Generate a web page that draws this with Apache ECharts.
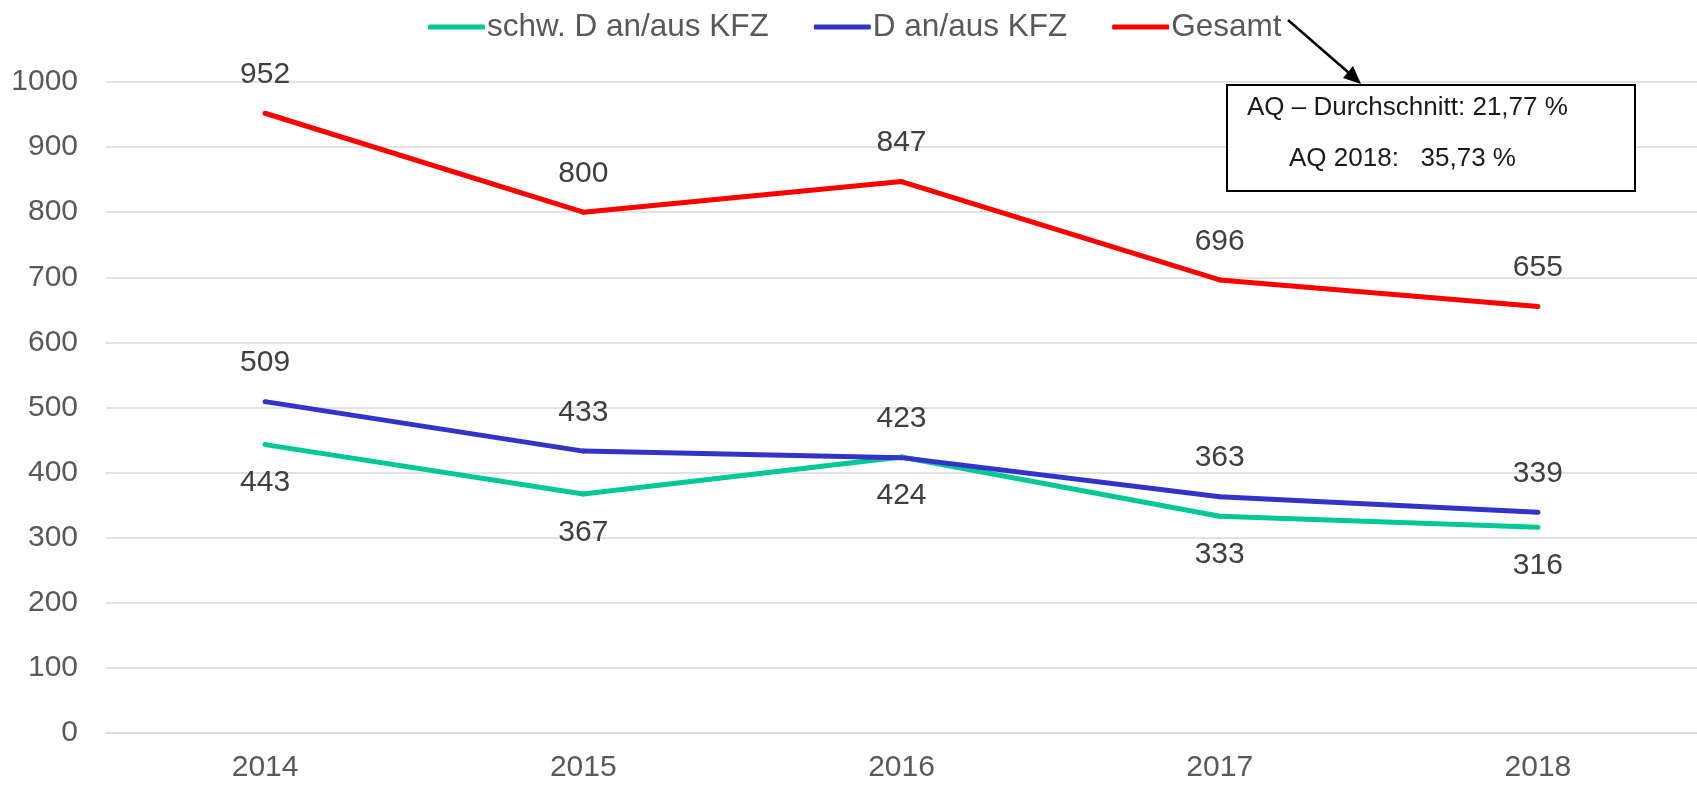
<!DOCTYPE html>
<html>
<head>
<meta charset="utf-8">
<script src="https://cdn.jsdelivr.net/npm/echarts@6/dist/echarts.min.js"></script>
<style>
html,body{margin:0;padding:0;background:#fff;}
#chart{width:1697px;height:787px;}
</style>
</head>
<body>
<div id="chart"></div>
<script>
const categories = ['2014', '2015', '2016', '2017', '2018'];
const schwValues = [443, 367, 424, 333, 316];
const dValues = [509, 433, 423, 363, 339];
const gesamtValues = [952, 800, 847, 696, 655];
const seriesNames = ['schw. D an/aus KFZ', 'D an/aus KFZ', 'Gesamt'];
const noteLines = ['AQ \u2013 Durchschnitt: 21,77 %', 'AQ 2018:   35,73 %'];

const FONT = '"Liberation Sans", Arial, sans-serif';
const chart = echarts.init(document.getElementById('chart'), null, {renderer: 'canvas'});

function lineSeries(name, data, color, pos) {
  return {
    name: name,
    type: 'line',
    data: data,
    symbol: 'circle',
    symbolSize: 5,
    showSymbol: true,
    smooth: false,
    lineStyle: {color: color, width: 5},
    itemStyle: {color: color},
    label: {
      show: true,
      position: pos,
      distance: 21,
      color: '#404040',
      fontSize: 30,
      fontFamily: FONT
    },
    labelLayout: {hideOverlap: false},
    emphasis: {disabled: true},
    z: 3
  };
}

const option = {
  animation: false,
  backgroundColor: '#ffffff',
  textStyle: {fontFamily: FONT},
  legend: {
    left: 423,
    top: 6,
    itemWidth: 57,
    itemHeight: 5,
    itemGap: 45,
    icon: 'roundRect',
    textStyle: {fontSize: 31.5, color: '#595959', fontFamily: FONT, padding: [0, 0, 0, -3]},
    data: seriesNames
  },
  grid: {left: 106, right: 0, top: 82, bottom: 54, containLabel: false},
  xAxis: {
    type: 'category',
    data: categories,
    boundaryGap: true,
    axisLine: {show: true, lineStyle: {color: '#d9d9d9', width: 1.5}},
    axisTick: {show: false},
    axisLabel: {color: '#595959', fontSize: 30, fontFamily: FONT, margin: 20}
  },
  yAxis: {
    type: 'value',
    min: 0,
    max: 1000,
    interval: 100,
    axisLine: {show: false},
    axisTick: {show: false},
    axisLabel: {color: '#595959', fontSize: 30, fontFamily: FONT, margin: 28, formatter: function (v) { return String(v); }},
    splitLine: {lineStyle: {color: '#d9d9d9', width: 1.5}}
  },
  series: [
    lineSeries(seriesNames[0], schwValues, '#00C896', 'bottom'),
    lineSeries(seriesNames[1], dValues, '#3333CC', 'top'),
    lineSeries(seriesNames[2], gesamtValues, '#FF0000', 'top')
  ],
  graphic: [
    {
      type: 'rect',
      shape: {x: 1227, y: 85, width: 408, height: 106},
      style: {fill: '#ffffff', stroke: '#000000', lineWidth: 2},
      z: 10
    },
    {
      type: 'text',
      x: 1247, y: 108,
      style: {text: noteLines[0], fill: '#1a1a1a', font: '26px "Liberation Sans", Arial, sans-serif', textVerticalAlign: 'middle'},
      z: 11
    },
    {
      type: 'text',
      x: 1289, y: 159,
      style: {text: noteLines[1], fill: '#1a1a1a', font: '26px "Liberation Sans", Arial, sans-serif', textVerticalAlign: 'middle'},
      z: 11
    },
    {
      type: 'line',
      shape: {x1: 1288, y1: 20, x2: 1349, y2: 73},
      style: {stroke: '#000000', lineWidth: 2.5},
      z: 11
    },
    {
      type: 'polygon',
      shape: {points: [[1361, 84], [1343, 78], [1353, 66]]},
      style: {fill: '#000000'},
      z: 11
    }
  ]
};
chart.setOption(option);
</script>
</body>
</html>
